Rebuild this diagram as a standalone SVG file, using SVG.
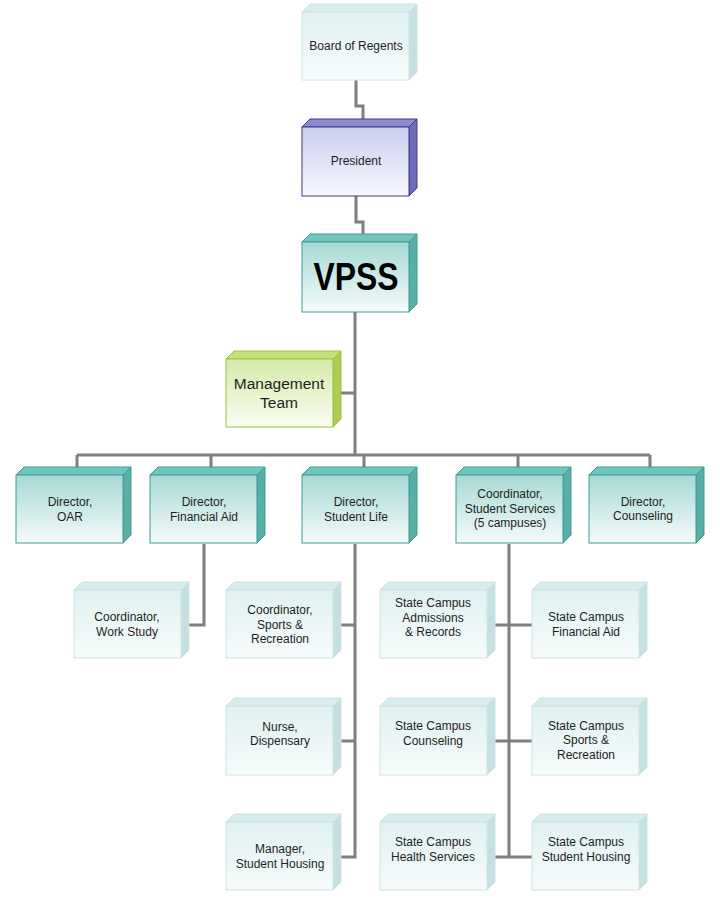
<svg xmlns="http://www.w3.org/2000/svg" width="720" height="899" viewBox="0 0 720 899">
<defs>
<linearGradient id="gTeal" x1="0" y1="0" x2="0" y2="1"><stop offset="0" stop-color="#a6d9d4"/><stop offset="1" stop-color="#f5fbfb"/></linearGradient>
<linearGradient id="gPurple" x1="0" y1="0" x2="0" y2="1"><stop offset="0" stop-color="#cacdee"/><stop offset="1" stop-color="#f8f8fe"/></linearGradient>
<linearGradient id="gGreen" x1="0" y1="0" x2="0" y2="1"><stop offset="0" stop-color="#d3eaa8"/><stop offset="1" stop-color="#fbfdf3"/></linearGradient>
<linearGradient id="gPale" x1="0" y1="0" x2="0" y2="1"><stop offset="0" stop-color="#e0f1f1"/><stop offset="1" stop-color="#f7fbfb"/></linearGradient>
</defs>
<style>
.conn{fill:none;stroke:#7f7f7f;stroke-width:3;stroke-linejoin:miter}
text{font-family:"Liberation Sans",Arial,sans-serif;font-size:12px;fill:#1e1e1e;text-anchor:middle}
.teal .front{fill:url(#gTeal);stroke:#3f9d95;stroke-width:1}
.teal .top{fill:#70c6be;stroke:#3f9d95;stroke-width:1}
.teal .side{fill:#59aea6;stroke:#3f9d95;stroke-width:1}
.purple .front{fill:url(#gPurple);stroke:#3d3a8f;stroke-width:1}
.purple .top{fill:#8c89cd;stroke:#3d3a8f;stroke-width:1}
.purple .side{fill:#706cb7;stroke:#3d3a8f;stroke-width:1}
.green .front{fill:url(#gGreen);stroke:#9cc43e;stroke-width:1}
.green .top{fill:#c6e07c;stroke:#9cc43e;stroke-width:1}
.green .side{fill:#abcd52;stroke:#9cc43e;stroke-width:1}
.pale .front{fill:url(#gPale);stroke:#cde4e4;stroke-width:1}
.pale .top{fill:#d7eded;stroke:#cde4e4;stroke-width:1}
.pale .side{fill:#c5e0e1;stroke:#cde4e4;stroke-width:1}
</style>
<rect width="720" height="899" fill="#ffffff"/>
<g id="connectors">
<path class="conn" d="M356,80 V106 H363 V120"/>
<path class="conn" d="M356,196 V222 H363 V235"/>
<path class="conn" d="M355,312 V455"/>
<path class="conn" d="M335,393 H355"/>
<path class="conn" d="M77,455 H650"/>
<path class="conn" d="M77,455 V468 M211,455 V468 M364,455 V468 M518,455 V468 M650,455 V468"/>
<path class="conn" d="M204,544 V625 H181"/>
<path class="conn" d="M355,544 V857 H333 M355,625 H333 M355,741 H333"/>
<path class="conn" d="M509,544 V857 M487,625 H532 M487,741 H532 M487,857 H532"/>
</g>
<g id="board" class="pale">
<polygon class="top" points="302,12 310,4 417,4 409,12"/>
<polygon class="side" points="409,12 417,4 417,72 409,80"/>
<rect class="front" x="302" y="12" width="107" height="68"/>
<text x="356" y="50">Board of Regents</text>
</g>
<g id="president" class="purple">
<polygon class="top" points="302,127 310,119 417,119 409,127"/>
<polygon class="side" points="409,127 417,119 417,188 409,196"/>
<rect class="front" x="302" y="127" width="107" height="69"/>
<text x="356" y="165">President</text>
</g>
<g id="vpss" class="teal">
<polygon class="top" points="302,242 310,234 417,234 409,242"/>
<polygon class="side" points="409,242 417,234 417,304 409,312"/>
<rect class="front" x="302" y="242" width="107" height="70"/>
<text x="356" y="290" style="font-size:39px;font-weight:bold;fill:#000" textLength="85" lengthAdjust="spacingAndGlyphs">VPSS</text>
</g>
<g id="management" class="green">
<polygon class="top" points="226,359 234,351 341,351 333,359"/>
<polygon class="side" points="333,359 341,351 341,419 333,427"/>
<rect class="front" x="226" y="359" width="107" height="68"/>
<text x="279" y="389" style="font-size:15.5px">Management</text>
<text x="279" y="408" style="font-size:15.5px">Team</text>
</g>
<g id="dir-oar" class="teal">
<polygon class="top" points="16,475 24,467 131,467 123,475"/>
<polygon class="side" points="123,475 131,467 131,535 123,543"/>
<rect class="front" x="16" y="475" width="107" height="68"/>
<text x="70" y="506">Director,</text>
<text x="70" y="520.5">OAR</text>
</g>
<g id="dir-finaid" class="teal">
<polygon class="top" points="150,475 158,467 265,467 257,475"/>
<polygon class="side" points="257,475 265,467 265,535 257,543"/>
<rect class="front" x="150" y="475" width="107" height="68"/>
<text x="204" y="506">Director,</text>
<text x="204" y="521">Financial Aid</text>
</g>
<g id="dir-studentlife" class="teal">
<polygon class="top" points="302,475 310,467 417,467 409,475"/>
<polygon class="side" points="409,475 417,467 417,535 409,543"/>
<rect class="front" x="302" y="475" width="107" height="68"/>
<text x="356" y="506">Director,</text>
<text x="356" y="521">Student Life</text>
</g>
<g id="coord-ss" class="teal">
<polygon class="top" points="456,475 464,467 571,467 563,475"/>
<polygon class="side" points="563,475 571,467 571,535 563,543"/>
<rect class="front" x="456" y="475" width="107" height="68"/>
<text x="510" y="498">Coordinator,</text>
<text x="510" y="512.5">Student Services</text>
<text x="510" y="527">(5 campuses)</text>
</g>
<g id="dir-counseling" class="teal">
<polygon class="top" points="589,475 597,467 704,467 696,475"/>
<polygon class="side" points="696,475 704,467 704,535 696,543"/>
<rect class="front" x="589" y="475" width="107" height="68"/>
<text x="643" y="506">Director,</text>
<text x="643" y="520">Counseling</text>
</g>
<g id="coord-workstudy" class="pale">
<polygon class="top" points="74,590 82,582 189,582 181,590"/>
<polygon class="side" points="181,590 189,582 189,650 181,658"/>
<rect class="front" x="74" y="590" width="107" height="68"/>
<text x="127" y="621">Coordinator,</text>
<text x="127" y="635.5">Work Study</text>
</g>
<g id="coord-sports" class="pale">
<polygon class="top" points="226,590 234,582 341,582 333,590"/>
<polygon class="side" points="333,590 341,582 341,650 333,658"/>
<rect class="front" x="226" y="590" width="107" height="68"/>
<text x="280" y="614">Coordinator,</text>
<text x="280" y="628.5">Sports &amp;</text>
<text x="280" y="643">Recreation</text>
</g>
<g id="nurse" class="pale">
<polygon class="top" points="226,706 234,698 341,698 333,706"/>
<polygon class="side" points="333,706 341,698 341,767 333,775"/>
<rect class="front" x="226" y="706" width="107" height="69"/>
<text x="280" y="730.5">Nurse,</text>
<text x="280" y="745">Dispensary</text>
</g>
<g id="mgr-housing" class="pale">
<polygon class="top" points="226,822 234,814 341,814 333,822"/>
<polygon class="side" points="333,822 341,814 341,882 333,890"/>
<rect class="front" x="226" y="822" width="107" height="68"/>
<text x="280" y="853">Manager,</text>
<text x="280" y="867.5">Student Housing</text>
</g>
<g id="sc-admissions" class="pale">
<polygon class="top" points="380,590 388,582 495,582 487,590"/>
<polygon class="side" points="487,590 495,582 495,650 487,658"/>
<rect class="front" x="380" y="590" width="107" height="68"/>
<text x="433" y="607">State Campus</text>
<text x="433" y="621.5">Admissions</text>
<text x="433" y="636">&amp; Records</text>
</g>
<g id="sc-counseling" class="pale">
<polygon class="top" points="380,706 388,698 495,698 487,706"/>
<polygon class="side" points="487,706 495,698 495,767 487,775"/>
<rect class="front" x="380" y="706" width="107" height="69"/>
<text x="433" y="730">State Campus</text>
<text x="433" y="745">Counseling</text>
</g>
<g id="sc-health" class="pale">
<polygon class="top" points="380,822 388,814 495,814 487,822"/>
<polygon class="side" points="487,822 495,814 495,882 487,890"/>
<rect class="front" x="380" y="822" width="107" height="68"/>
<text x="433" y="846">State Campus</text>
<text x="433" y="861">Health Services</text>
</g>
<g id="sc-finaid" class="pale">
<polygon class="top" points="532,590 540,582 647,582 639,590"/>
<polygon class="side" points="639,590 647,582 647,650 639,658"/>
<rect class="front" x="532" y="590" width="107" height="68"/>
<text x="586" y="621">State Campus</text>
<text x="586" y="636">Financial Aid</text>
</g>
<g id="sc-sports" class="pale">
<polygon class="top" points="532,706 540,698 647,698 639,706"/>
<polygon class="side" points="639,706 647,698 647,767 639,775"/>
<rect class="front" x="532" y="706" width="107" height="69"/>
<text x="586" y="729.5">State Campus</text>
<text x="586" y="744">Sports &amp;</text>
<text x="586" y="758.5">Recreation</text>
</g>
<g id="sc-housing" class="pale">
<polygon class="top" points="532,822 540,814 647,814 639,822"/>
<polygon class="side" points="639,822 647,814 647,882 639,890"/>
<rect class="front" x="532" y="822" width="107" height="68"/>
<text x="586" y="846">State Campus</text>
<text x="586" y="861">Student Housing</text>
</g>
</svg>
